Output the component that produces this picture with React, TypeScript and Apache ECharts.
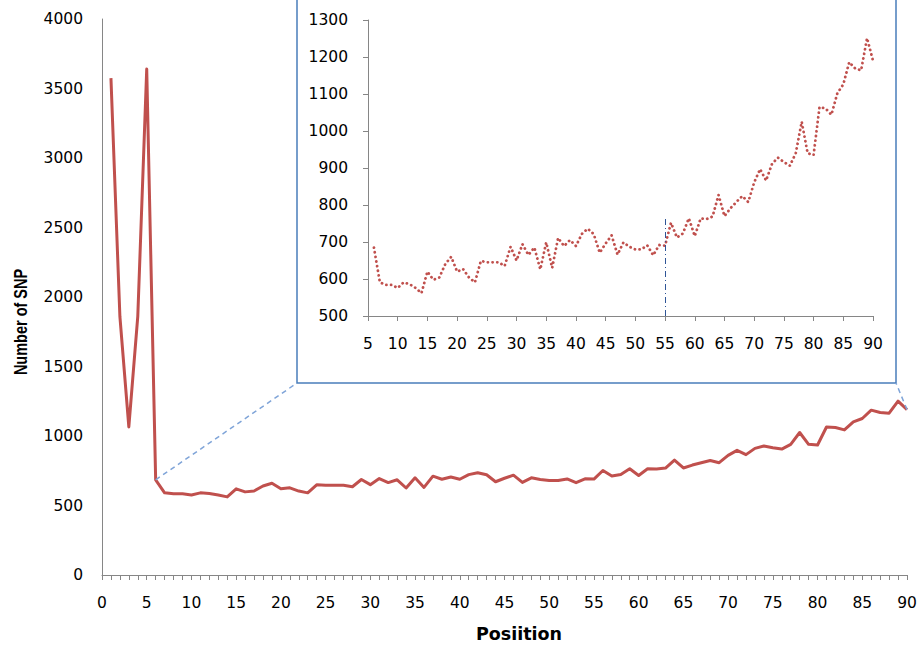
import React, { useEffect, useRef } from "react";
import * as echarts from "echarts";

const positions: number[] = Array.from({ length: 90 }, (_, i) => i + 1);
const snpCounts: number[] = [
  3575, 1860, 1065, 1860, 3640, 685, 591, 584, 584, 576,
  591, 586, 576, 562, 620, 598, 604, 640, 660, 620,
  627, 604, 591, 649, 645, 645, 645, 635, 687, 650,
  694, 665, 685, 626, 699, 630, 711, 689, 705, 689,
  722, 736, 721, 671, 696, 718, 666, 699, 687, 680,
  680, 691, 664, 692, 690, 752, 712, 723, 764, 716,
  764, 762, 769, 827, 770, 791, 808, 824, 808, 861,
  897, 866, 911, 928, 916, 906, 940, 1025, 940, 935,
  1065, 1061, 1044, 1102, 1126, 1186, 1169, 1164, 1251, 1190,
];
const insetStart = 6;
const markerPosition = 55;
const markerTop = 770;
const xTitle = "Posiition";
const yTitle = "Number of SNP";

const RED = "#C0504D";
const AXIS = "#868686";
const FONT = "DejaVu Sans";

export default function App() {
  const ref = useRef<HTMLDivElement>(null);
  useEffect(() => {
    if (!ref.current) return;
    const chart = echarts.init(ref.current, undefined, { renderer: "svg" });
    const mainData = positions.map((p, i) => [p, snpCounts[i]]);
    const insetData = mainData.filter((d) => d[0] >= insetStart);
    const startIdx = positions.indexOf(insetStart);
    const last = positions.length - 1;
    const plain = (v: number) => String(v);
    const labelStyle = { color: "#000", fontFamily: FONT, fontSize: 15.5, formatter: plain };
    chart.setOption({
      animation: false,
      grid: [
        { left: 102, right: 14, top: 19, bottom: 70 },
        { left: 368, right: 48, top: 20, bottom: 329 },
      ],
      xAxis: [
        {
          type: "value", gridIndex: 0, min: 0, max: 90, interval: 5,
          axisLine: { lineStyle: { color: AXIS, width: 1 } },
          axisTick: { show: true, length: 5, lineStyle: { color: AXIS } },
          minorTick: { show: true, splitNumber: 5, length: 5, lineStyle: { color: AXIS } },
          splitLine: { show: false },
          axisLabel: { ...labelStyle, margin: 20 },
        },
        {
          type: "value", gridIndex: 1, min: 5, max: 90, interval: 5,
          axisLine: { lineStyle: { color: AXIS, width: 1 } },
          axisTick: { show: true, length: 5, lineStyle: { color: AXIS } },
          splitLine: { show: false },
          axisLabel: { ...labelStyle, margin: 20 },
        },
      ],
      yAxis: [
        {
          type: "value", gridIndex: 0, min: 0, max: 4000, interval: 500,
          axisLine: { show: true, lineStyle: { color: AXIS, width: 1 } },
          axisTick: { show: false },
          splitLine: { show: false },
          axisLabel: { ...labelStyle, margin: 19 },
        },
        {
          type: "value", gridIndex: 1, min: 500, max: 1300, interval: 100,
          axisLine: { show: true, lineStyle: { color: AXIS, width: 1 } },
          axisTick: { show: true, length: 5, lineStyle: { color: AXIS } },
          splitLine: { show: false },
          axisLabel: { ...labelStyle, margin: 20 },
        },
      ],
      series: [
        {
          type: "line", xAxisIndex: 0, yAxisIndex: 0, data: mainData,
          showSymbol: false, symbol: "none",
          lineStyle: { color: RED, width: 3, join: "round" },
          markLine: {
            silent: true, symbol: "none",
            label: { show: false },
            lineStyle: { color: "#7FA4D8", type: [5, 4], width: 1.5 },
            data: [
              [{ coord: [positions[startIdx], snpCounts[startIdx]] }, { x: 297, y: 383 }],
              [{ coord: [positions[last], snpCounts[last]] }, { x: 896, y: 383 }],
            ],
          },
        },
        {
          type: "line", xAxisIndex: 1, yAxisIndex: 1, data: insetData,
          showSymbol: false, symbol: "none",
          lineStyle: { color: RED, width: 2.8, type: [0.1, 4.6], cap: "round" },
          markLine: {
            silent: true, symbol: "none",
            label: { show: false },
            lineStyle: { color: "#2F5597", type: [6, 3, 1, 3], width: 1 },
            data: [[{ coord: [markerPosition, 500] }, { coord: [markerPosition, markerTop] }]],
          },
        },
      ],
      graphic: [
        {
          type: "rect",
          shape: { x: 297, y: -2, width: 599, height: 385 },
          style: { fill: "none", stroke: "#4A7EBB", lineWidth: 1.5 },
          silent: true,
        },
        {
          type: "text", x: 519, y: 634,
          style: {
            text: xTitle, fill: "#000", font: "bold 17.5px 'DejaVu Sans'",
            align: "center", verticalAlign: "middle",
          },
        },
        {
          type: "text", x: 21, y: 322, rotation: Math.PI / 2, scaleY: 1.3,
          style: {
            text: yTitle, fill: "#000", font: "bold 14.5px 'Liberation Sans'",
            align: "center", verticalAlign: "middle",
          },
        },
      ],
    });
    return () => chart.dispose();
  }, []);
  return (
    <div
      ref={ref}
      style={{ position: "fixed", left: 0, top: 0, width: 921, height: 645, background: "#fff" }}
    />
  );
}
